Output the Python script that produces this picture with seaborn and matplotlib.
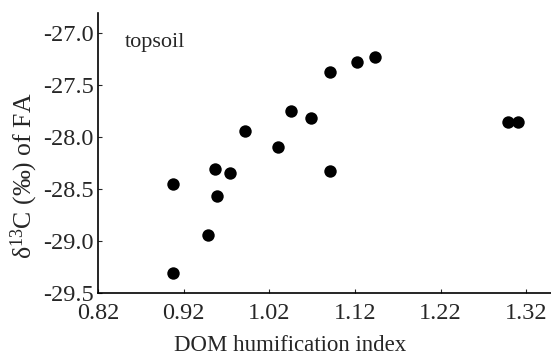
import matplotlib
matplotlib.use("Agg")
import matplotlib.pyplot as plt
import seaborn as sns
import pandas as pd

humification = [0.908, 0.907, 0.948, 0.957, 0.959, 0.974, 0.9915, 1.030, 1.045,
                1.0685, 1.0915, 1.0915, 1.123, 1.143, 1.299, 1.310]
delta13c = [-28.45, -29.31, -28.94, -28.31, -28.57, -28.35, -27.94, -28.10, -27.75,
            -27.82, -27.38, -28.33, -27.28, -27.23, -27.856, -27.86]
xticks = [0.82, 0.92, 1.02, 1.12, 1.22, 1.32]
yticks = [-29.5, -29.0, -28.5, -28.0, -27.5, -27.0]

df = pd.DataFrame({"x": humification, "y": delta13c})

sns.set_style("ticks")
plt.rcParams['font.family'] = ['Liberation Serif', 'DejaVu Serif']
plt.rcParams['mathtext.fontset'] = 'custom'
plt.rcParams['mathtext.rm'] = 'Liberation Serif'
plt.rcParams['mathtext.it'] = 'Liberation Serif:italic'

fig = plt.figure(figsize=(5.51, 3.56), dpi=100)
ax = fig.add_axes([98/551, 63/356, 453/551, 280/356])
sns.scatterplot(data=df, x="x", y="y", ax=ax, color="black", s=80,
                edgecolor="black", linewidth=0, legend=False)

ax.set_xlim(0.82, 1.349)
ax.set_ylim(-29.5, -26.81)
ax.set_xticks(xticks)
ax.set_xticklabels([f"{v:.2f}" for v in xticks])
ax.set_yticks(yticks)
ax.set_yticklabels([f"{v:.1f}" for v in yticks])
ax.tick_params(axis='both', direction='in', length=3, width=0.8, labelsize=17.5)
ax.tick_params(axis='x', pad=7)
ax.tick_params(axis='y', pad=3)
for s in ['top', 'right']:
    ax.spines[s].set_visible(False)
for s in ['left', 'bottom']:
    ax.spines[s].set_linewidth(1.2)
    ax.spines[s].set_color('black')

ax.set_xlabel("DOM humification index", fontsize=16.5)
ax.xaxis.set_label_coords(0.424, -0.15)
ax.set_ylabel(r"$\mathregular{\delta}$$^{13}$C (‰) of FA", fontsize=18.5)
ax.yaxis.set_label_coords(-0.128, 0.418)
ax.text(0.06, 0.896, "topsoil", transform=ax.transAxes, fontsize=16, va="center", ha="left")

fig.savefig("out.png", dpi=100)
